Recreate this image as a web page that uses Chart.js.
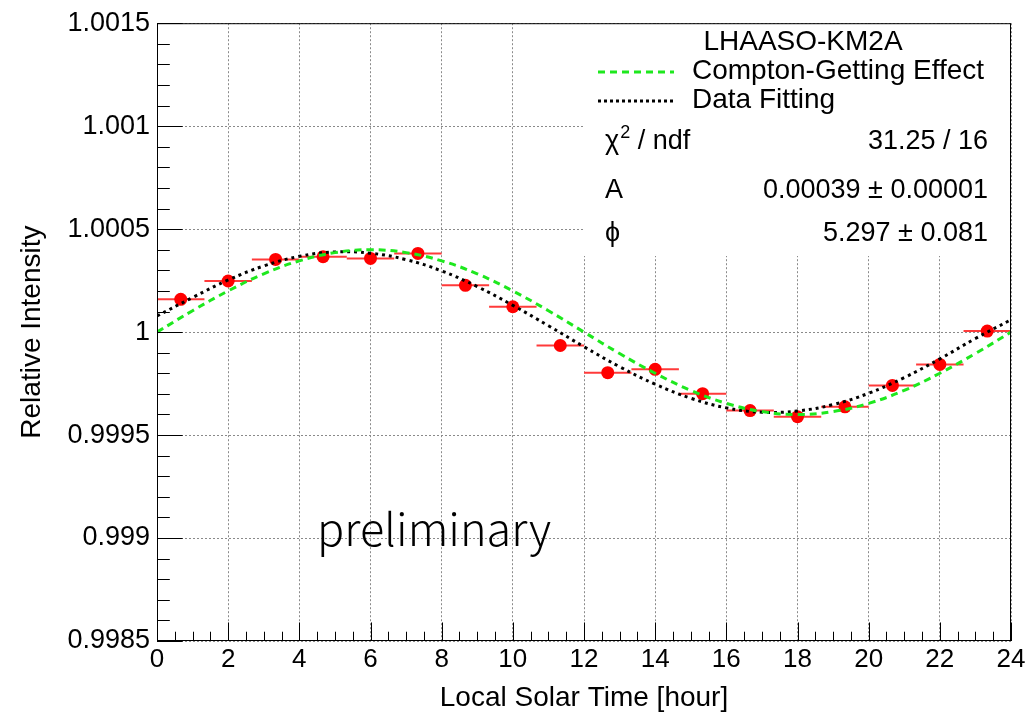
<!DOCTYPE html>
<html>
<head>
<meta charset="utf-8">
<script src="https://cdn.jsdelivr.net/npm/chart.js@4.4.1/dist/chart.umd.min.js"></script>
<style>
  html, body { margin: 0; padding: 0; background: #fff; }
  canvas { display: block; }
</style>
</head>
<body>
<canvas id="c" width="1033" height="716"></canvas>
<script>
// ---------------- data ----------------
const hours = [0.667, 2, 3.333, 4.667, 6, 7.333, 8.667, 10, 11.333, 12.667, 14, 15.333, 16.667, 18, 19.333, 20.667, 22, 23.333];
const intensity = [1.000159, 1.000248, 1.000353, 1.000366, 1.000358, 1.000382, 1.000227, 1.000123, 0.999935, 0.999803, 0.999819, 0.999701, 0.999619, 0.999589, 0.999637, 0.999741, 0.999843, 1.000005];
const hourErr = [0.667, 0.667, 0.667, 0.667, 0.667, 0.667, 0.667, 0.667, 0.667, 0.667, 0.667, 0.667, 0.667, 0.667, 0.667, 0.667, 0.667, 0.667];

const curveHours = [0, 1, 2, 3, 4, 5, 6, 7, 8, 9, 10, 11, 12, 13, 14, 15, 16, 17, 18, 19, 20, 21, 22, 23, 24];
const fitValues = [1.000078, 1.000168, 1.000253, 1.000321, 1.000368, 1.000389, 1.000383, 1.000352, 1.000297, 1.000221, 1.000130, 1.000031, 0.999929, 0.999832, 0.999747, 0.999679, 0.999632, 0.999611, 0.999617, 0.999648, 0.999703, 0.999779, 0.999870, 0.999969, 1.000060];
const cgValues = [1.000000, 1.000104, 1.000200, 1.000283, 1.000346, 1.000386, 1.000400, 1.000386, 1.000346, 1.000283, 1.000200, 1.000104, 1.000000, 0.999896, 0.999800, 0.999717, 0.999654, 0.999614, 0.999600, 0.999614, 0.999654, 0.999717, 0.999800, 0.999896, 1.000000];

const xTickValues = [0, 2, 4, 6, 8, 10, 12, 14, 16, 18, 20, 22, 24];
const yTickValues = [0.9985, 0.999, 0.9995, 1, 1.0005, 1.001, 1.0015];
const yTickLabels = ['0.9985', '0.999', '0.9995', '1', '1.0005', '1.001', '1.0015'];

const legendTitle = 'LHAASO-KM2A';
const seriesNames = ['Compton-Getting Effect', 'Data Fitting'];
const statLabels = ['χ', 'A', 'ϕ'];
const statValues = ['31.25 / 16', '0.00039 ± 0.00001', '5.297 ± 0.081'];
const xTitle = 'Local Solar Time [hour]';
const yTitle = 'Relative Intensity';
const watermark = 'preliminary';

// ---------------- chart ----------------
const FONT = "'Liberation Sans', Arial, sans-serif";
Chart.defaults.font.family = FONT;
Chart.defaults.color = '#000';

const GREEN = '#1ee81e';
const RED = '#ff0000';

const overlay = {
  id: 'overlay',
  beforeDatasetsDraw(chart) {
    const { ctx, scales: { x, y } } = chart;
    ctx.save();
    ctx.strokeStyle = '#ff3a3a';
    ctx.lineWidth = 2;
    hours.forEach((h, i) => {
      const py = y.getPixelForValue(intensity[i]);
      ctx.beginPath();
      ctx.moveTo(x.getPixelForValue(h - hourErr[i]), py);
      ctx.lineTo(x.getPixelForValue(h + hourErr[i]), py);
      ctx.stroke();
    });
    ctx.restore();
  },
  afterDatasetsDraw(chart) {
    const { ctx } = chart;
    ctx.save();
    // preliminary watermark
    ctx.fillStyle = '#000';
    ctx.font = '300 45px "Noto Sans CJK SC", "Noto Sans", sans-serif';
    ctx.textAlign = 'left';
    ctx.textBaseline = 'alphabetic';
    ctx.fillText(watermark, 317, 546);

    // legend / stats box
    ctx.fillStyle = '#fff';
    ctx.fillRect(583, 24, 427, 232);

    ctx.fillStyle = '#000';
    ctx.textBaseline = 'middle';
    ctx.font = '28px ' + FONT;
    ctx.textAlign = 'center';
    ctx.fillText(legendTitle, 803, 42);

    ctx.lineWidth = 3;
    ctx.strokeStyle = GREEN;
    ctx.setLineDash([7, 5]);
    ctx.beginPath(); ctx.moveTo(598, 72); ctx.lineTo(674, 72); ctx.stroke();
    ctx.strokeStyle = '#000';
    ctx.setLineDash([3, 3]);
    ctx.beginPath(); ctx.moveTo(598, 101); ctx.lineTo(674, 101); ctx.stroke();
    ctx.setLineDash([]);

    ctx.textAlign = 'left';
    ctx.fillText(seriesNames[0], 692, 71);
    ctx.fillText(seriesNames[1], 692, 100);

    ctx.font = '27px ' + FONT;
    const rowsY = [142, 191, 234];
    statLabels.forEach((s, i) => {
      ctx.textAlign = 'left';
      ctx.font = '27px ' + FONT;
      ctx.fillText(s, 605, rowsY[i]);
      if (i === 0) {
        const w = ctx.measureText(s).width;
        ctx.font = '18px ' + FONT;
        ctx.fillText('2', 605 + w + 1, rowsY[i] - 9);
        const w2 = ctx.measureText('2').width;
        ctx.font = '27px ' + FONT;
        ctx.fillText(' / ndf', 605 + w + 1 + w2, rowsY[i]);
      }
      ctx.textAlign = 'right';
      ctx.fillText(statValues[i], 988, rowsY[i]);
    });
    ctx.restore();
  },
  afterDraw(chart) {
    const { ctx, chartArea: a, scales: { x, y } } = chart;
    ctx.save();
    ctx.strokeStyle = '#000';
    ctx.lineWidth = 1;
    // frame
    ctx.strokeRect(a.left + 0.5, a.top + 0.5, a.right - a.left - 1, a.bottom - a.top - 1);
    // x ticks (inside)
    const xMajor = 0.03 * (a.bottom - a.top);
    ctx.beginPath();
    for (let v = 0; v <= 24.0001; v += 0.5) {
      const px = Math.round(x.getPixelForValue(v)) + 0.5;
      const len = (Math.abs(v / 2 - Math.round(v / 2)) < 1e-6) ? xMajor : xMajor / 2;
      ctx.moveTo(px, a.bottom);
      ctx.lineTo(px, a.bottom - len);
    }
    // y ticks (inside)
    const yMajor = 0.03 * (a.right - a.left);
    for (let k = 0; k <= 30; k++) {
      const v = 0.9985 + k * 0.0001;
      const py = Math.round(y.getPixelForValue(v)) + 0.5;
      const len = (k % 5 === 0) ? yMajor : yMajor / 2;
      ctx.moveTo(a.left, py);
      ctx.lineTo(a.left + len, py);
    }
    ctx.stroke();
    ctx.restore();
  }
};

new Chart(document.getElementById('c'), {
  type: 'scatter',
  data: {
    datasets: [
      {
        label: seriesNames[0],
        type: 'line',
        data: curveHours.map((h, i) => ({ x: h, y: cgValues[i] })),
        borderColor: GREEN,
        borderWidth: 3,
        borderDash: [7, 5],
        pointRadius: 0,
        tension: 0.4,
        fill: false,
        order: 0
      },
      {
        label: seriesNames[1],
        type: 'line',
        data: curveHours.map((h, i) => ({ x: h, y: fitValues[i] })),
        borderColor: '#000',
        borderWidth: 3,
        borderDash: [3, 4],
        pointRadius: 0,
        tension: 0.4,
        fill: false,
        order: 1
      },
      {
        label: 'Data',
        data: hours.map((h, i) => ({ x: h, y: intensity[i] })),
        backgroundColor: RED,
        borderColor: RED,
        pointRadius: 6.5,
        pointBorderWidth: 0,
        order: 2
      }
    ]
  },
  options: {
    responsive: false,
    animation: false,
    layout: { padding: { left: 0, right: 22, top: 23, bottom: 0 } },
    plugins: { legend: { display: false }, tooltip: { enabled: false } },
    scales: {
      x: {
        type: 'linear',
        min: 0, max: 24,
        afterBuildTicks: s => { s.ticks = xTickValues.map(v => ({ value: v })); },
        afterFit: s => { s.height = 75; },
        ticks: { font: { size: 26 }, padding: 3, maxRotation: 0, autoSkip: false, color: '#000' },
        grid: { color: '#8a8a8a', lineWidth: 1, drawTicks: false },
        border: { display: false, dash: [2, 2] },
        title: { display: true, text: xTitle, font: { size: 28 }, padding: { top: 0, bottom: 1 }, color: '#000' }
      },
      y: {
        type: 'linear',
        min: 0.9985, max: 1.0015,
        afterBuildTicks: s => { s.ticks = yTickValues.map(v => ({ value: v })); },
        afterFit: s => { s.width = 157; },
        ticks: {
          font: { size: 27 }, padding: 7, autoSkip: false, color: '#000',
          callback: (v, i) => yTickLabels[i]
        },
        grid: { color: '#8a8a8a', lineWidth: 1, drawTicks: false },
        border: { display: false, dash: [2, 2] },
        title: { display: true, text: yTitle, font: { size: 28 }, padding: { top: 15, bottom: 0 }, color: '#000' }
      }
    }
  },
  plugins: [overlay]
});
</script>
</body>
</html>
